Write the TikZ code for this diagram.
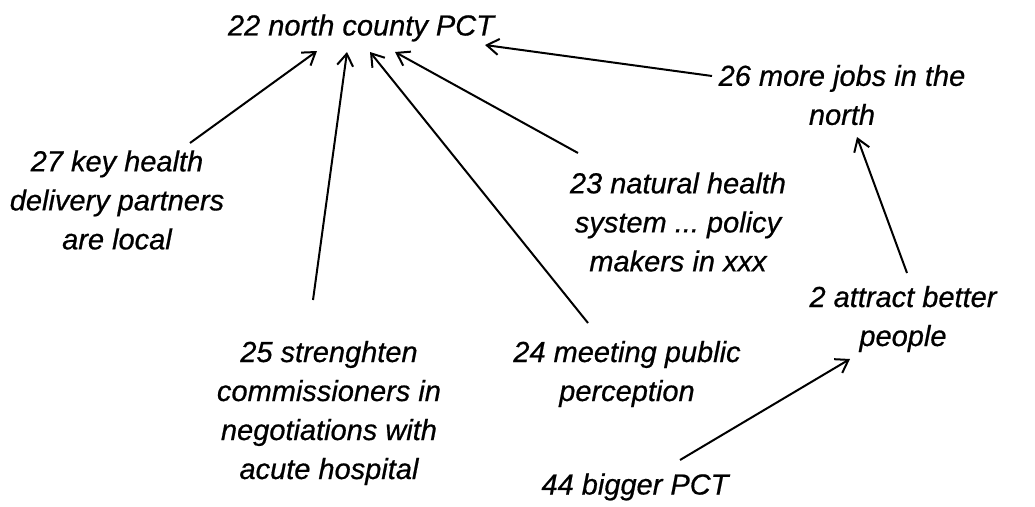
\documentclass[tikz,border=0pt]{standalone}
\usepackage{fontspec}
\setmainfont{Liberation Sans}[ItalicFont={Liberation Sans Italic}, ItalicFeatures={FakeBold=0.6}]
\usetikzlibrary{arrows.meta}
\frenchspacing
\begin{document}
\begin{tikzpicture}[x=1pt,y=-1pt,
  lbl/.style={font=\fontsize{29}{39}\selectfont\itshape, align=center, inner sep=0pt},
  link/.style={line width=2pt, -{Straight Barb[length=12pt,width=16pt]}}]
\useasboundingbox (0,0) rectangle (1035,506);

% statements
\node[lbl] (n22) at (361,28) {22 north county PCT};
\node[lbl] (n26) at (842,95) {26 more jobs in the\\north};
\node[lbl] (n27) at (117,200) {27 key health\\delivery partners\\are local};
\node[lbl] (n23) at (678,222) {23 natural health\\system ... policy\\makers in xxx};
\node[lbl] (n25) at (329,413) {25 strenghten\\commissioners in\\negotiations with\\acute hospital};
\node[lbl] (n2)  at (903,319) {2 attract better\\people};
\node[lbl] (n24) at (627,374) {24 meeting public\\perception};
\node[lbl] (n44) at (635,487) {44 bigger PCT};

% links into the PCT
\draw[link] ([shift={(73,-57)}]n27.center)   -- ([shift={(-44,23)}]n22.center);
\draw[link] ([shift={(-16,-113)}]n25.center) -- ([shift={(-14,24)}]n22.center);
\draw[link] ([shift={(-39,-51)}]n24.center)  -- ([shift={(9,24)}]n22.center);
\draw[link] ([shift={(-100,-69)}]n23.center) -- ([shift={(34,24)}]n22.center);
\draw[link] ([shift={(-130,-19)}]n26.center) -- ([shift={(124,17)}]n22.center);

% chain on the right
\draw[link] ([shift={(4,-46)}]n2.center)  -- ([shift={(15,42)}]n26.center);
\draw[link] ([shift={(45,-27)}]n44.center) -- ([shift={(-53,40)}]n2.center);
\end{tikzpicture}
\end{document}
